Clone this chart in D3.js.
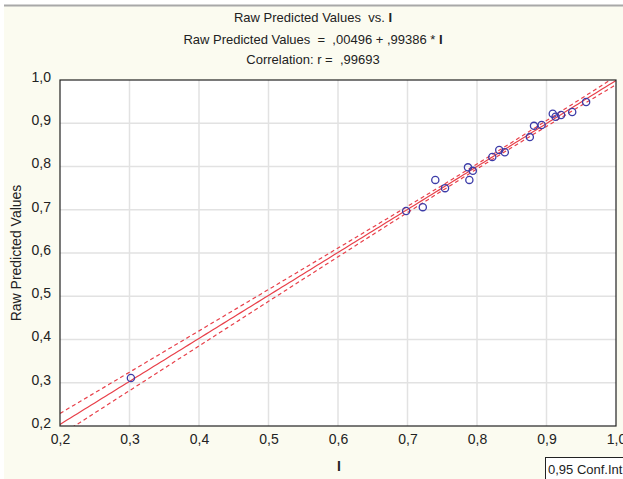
<!DOCTYPE html>
<html>
<head>
  <meta charset="utf-8">
  <title>Raw Predicted Values vs. I</title>
  <script src="https://d3js.org/d3.v7.min.js"></script>
  <style>
    body { margin: 0; background: #ffffff; }
    svg { display: block; }
    text { font-family: "Liberation Sans Narrow", "Arial Narrow", "Liberation Sans", sans-serif; fill: #222; white-space: pre; }
  </style>
</head>
<body>
  <svg width="623" height="479"></svg>
  <script>
    // observed I values and raw predicted values
    var xVals = [0.302, 0.698, 0.722, 0.740, 0.754, 0.787, 0.789, 0.794, 0.822, 0.832, 0.840, 0.876, 0.882, 0.893, 0.909, 0.913, 0.921, 0.937, 0.957];
    var yVals = [0.311, 0.697, 0.706, 0.769, 0.750, 0.798, 0.769, 0.790, 0.822, 0.838, 0.833, 0.868, 0.894, 0.896, 0.922, 0.915, 0.919, 0.926, 0.949];
    var ticks = [0.2, 0.3, 0.4, 0.5, 0.6, 0.7, 0.8, 0.9, 1.0];
    var intercept = 0.00496, slope = 0.99386;
    var titleLines = ["Raw Predicted Values  vs. ", "Raw Predicted Values  =  ,00496 + ,99386 * ", "Correlation: r =  ,99693"];

    var svg = d3.select("svg");
    var margin = { top: 80, right: 7, bottom: 53, left: 60 };
    var width = 623 - margin.left - margin.right;
    var height = 479 - margin.top - margin.bottom;

    // cream panel background
    svg.append("rect").attr("x", 4).attr("y", 5).attr("width", 619).attr("height", 474).attr("fill", "#fbfbf0");
    svg.append("line").attr("x1", 4).attr("x2", 623).attr("y1", 5.5).attr("y2", 5.5)
      .attr("stroke", "#a8a8a8").attr("stroke-width", 2);

    var x = d3.scaleLinear().domain([0.2, 1.0]).range([0, width]);
    var y = d3.scaleLinear().domain([0.2, 1.0]).range([height, 0]);
    var fmt = function (d) { return d3.format(".1f")(d).replace(".", ","); };

    var g = svg.append("g").attr("transform", "translate(" + margin.left + "," + margin.top + ")");
    g.append("rect").attr("width", width).attr("height", height).attr("fill", "#ffffff");

    // grid
    g.selectAll(".vgrid").data(ticks.slice(1, -1)).enter().append("line")
      .attr("x1", function (d) { return x(d); }).attr("x2", function (d) { return x(d); })
      .attr("y1", 0).attr("y2", height).attr("stroke", "#e2e2e2").attr("stroke-width", 1.5);
    g.selectAll(".hgrid").data(ticks.slice(1, -1)).enter().append("line")
      .attr("y1", function (d) { return y(d); }).attr("y2", function (d) { return y(d); })
      .attr("x1", 0).attr("x2", width).attr("stroke", "#e2e2e2").attr("stroke-width", 1.5);

    // regression and 95% confidence bands
    var n = xVals.length;
    var xbar = d3.mean(xVals);
    var sxx = d3.sum(xVals, function (d) { return (d - xbar) * (d - xbar); });
    var sse = d3.sum(xVals, function (d, i) { var r = yVals[i] - (intercept + slope * d); return r * r; });
    var se = Math.sqrt(sse / (n - 2));
    var tval = 2.11;
    var grid = d3.range(0.2, 1.0001, 0.005);
    function half(v) { return tval * se * Math.sqrt(1 / n + (v - xbar) * (v - xbar) / sxx); }

    g.append("clipPath").attr("id", "clip").append("rect").attr("width", width).attr("height", height);
    var plot = g.append("g").attr("clip-path", "url(#clip)");
    var line = d3.line().x(function (d) { return x(d[0]); }).y(function (d) { return y(d[1]); });

    plot.append("path").datum(grid.map(function (v) { return [v, intercept + slope * v]; }))
      .attr("d", line).attr("fill", "none").attr("stroke", "#e8404a").attr("stroke-width", 1.2);
    [1, -1].forEach(function (s) {
      plot.append("path").datum(grid.map(function (v) { return [v, intercept + slope * v + s * half(v)]; }))
        .attr("d", line).attr("fill", "none").attr("stroke", "#e8404a").attr("stroke-width", 1.2)
        .attr("stroke-dasharray", "4,3");
    });

    // points
    g.selectAll(".pt").data(xVals).enter().append("circle")
      .attr("cx", function (d) { return x(d); })
      .attr("cy", function (d, i) { return y(yVals[i]); })
      .attr("r", 3.6).attr("fill", "none").attr("stroke", "#3c3ca8").attr("stroke-width", 1.3);

    // frame
    g.append("rect").attr("width", width).attr("height", height).attr("fill", "none").attr("stroke", "#222").attr("stroke-width", 1.2);

    // axes
    var xAxis = g.append("g").attr("transform", "translate(0," + height + ")")
      .call(d3.axisBottom(x).tickValues(ticks).tickFormat(fmt).tickSize(0).tickPadding(8));
    xAxis.select(".domain").remove();
    xAxis.selectAll("text").attr("font-size", 14).style("font-family", null);
    var yAxis = g.append("g")
      .call(d3.axisLeft(y).tickValues(ticks).tickFormat(fmt).tickSize(0).tickPadding(9));
    yAxis.select(".domain").remove();
    yAxis.selectAll("text").attr("font-size", 14).style("font-family", null).attr("dy", "0.1em");

    // titles
    var tY = [22, 44, 64];
    titleLines.forEach(function (t, i) {
      var tx = svg.append("text").attr("x", 313).attr("y", tY[i]).attr("text-anchor", "middle")
        .attr("font-size", 13).text(t);
      if (i < 2) tx.append("tspan").attr("font-weight", "bold").text("I");
    });

    svg.append("text").attr("x", 339).attr("y", 471).attr("text-anchor", "middle")
      .attr("font-size", 14).attr("font-weight", "bold").text("I");
    svg.append("text").attr("transform", "translate(21," + (margin.top + y(0.6)) + ") rotate(-90)")
      .attr("text-anchor", "middle").attr("font-size", 14).text("Raw Predicted Values");

    // legend box
    svg.append("rect").attr("x", 545.5).attr("y", 457.5).attr("width", 90).attr("height", 22)
      .attr("fill", "#ffffff").attr("stroke", "#222");
    svg.append("text").attr("x", 548).attr("y", 474).attr("font-size", 13).text("0,95 Conf.Int");
  </script>
</body>
</html>
